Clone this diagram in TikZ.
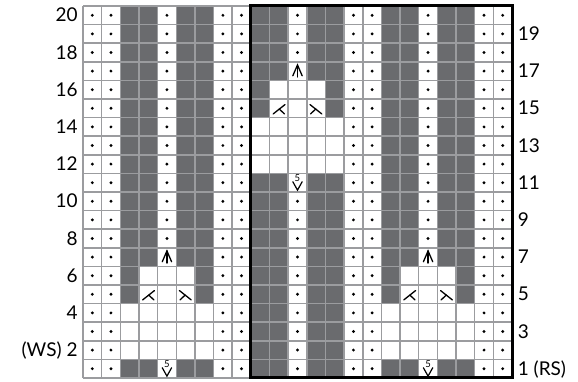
\documentclass[tikz,border=0pt]{standalone}
\usepackage{fontspec}
\setmainfont{Lato}
\definecolor{darkcell}{RGB}{106,107,110}
\definecolor{gridline}{RGB}{155,156,159}
\begin{document}
\begin{tikzpicture}[x=1pt,y=1pt,
  lbl/.style={font=\fontsize{19}{19}\selectfont, inner sep=0pt},
  sym/.style={line width=1.3pt, line cap=round, line join=miter, black},
  purl/.style={fill=black, draw=none},
  upsym/.pic={\draw[sym] (-0.25,-0.25) -- (0,0.33) -- (0.25,-0.25); \draw[sym] (0,0.33) -- (0,-0.32);},
  rsym/.pic={\draw[sym] (-0.33,0.2) -- (0.3,-0.3); \draw[sym] (-0.02,-0.04) -- (-0.3,-0.3);},
  lsym/.pic={\draw[sym] (0.33,0.2) -- (-0.3,-0.3); \draw[sym] (0.02,-0.04) -- (0.3,-0.3);},
  fivesym/.pic={\draw[sym, line width=1.2pt] (-0.25,0.05) -- (0,-0.4) -- (0.25,0.05);
     \node[inner sep=0pt, font=\fontsize{9.5}{9.5}\selectfont] at (0,0.25) {5};},
  ]
\useasboundingbox (0,0) rectangle (578,382);
\begin{scope}[shift={(83,4)}, x=18.652pt, y=18.6pt]
  \fill[white] (0,0) rectangle (23,20);
  % dark columns
  \foreach \c in {3,4,6,7,10,11,13,14,17,18,20,21}
    \fill[darkcell] (\c-1,0) rectangle (\c,20);
  % white cable areas (left cable and cable B)
  \foreach \o in {0,14} {
    \fill[white] (2+\o,1) rectangle (7+\o,4);
    \fill[white] (3+\o,4) rectangle (6+\o,6);
  }
  % cable A
  \fill[white] (9,11) rectangle (14,14);
  \fill[white] (10,14) rectangle (13,16);
  % grid
  \draw[gridline, line width=1.5pt] (0,0) grid[step=1] (23,20);
  % purl dots
  \foreach \c in {1,2,8,9,15,16,22,23}
    \foreach \r in {1,...,20}
      \fill[purl] (\c-0.5,\r-0.5) circle[radius=1.6pt];
  \foreach \c in {5,19}
    \foreach \r in {8,...,20}
      \fill[purl] (\c-0.5,\r-0.5) circle[radius=1.6pt];
  \foreach \r in {1,...,10,18,19,20}
    \fill[purl] (11.5,\r-0.5) circle[radius=1.6pt];
  % cable symbols
  \foreach \x/\y in {4.5/0, 18.5/0, 11.5/10} {
    \pic at (\x,\y+0.5) {fivesym};
    \pic at (\x-1,\y+4.5) {lsym};
    \pic at (\x+1,\y+4.5) {rsym};
    \pic at (\x,\y+6.5) {upsym};
  }
  % repeat box
  \draw[black, line width=3pt] (9,0) rectangle (23,20);
  % row labels
  \foreach \r in {4,6,...,20}
    \node[lbl, anchor=base east] (L\r) at (-0.28,\r-0.86) {\r};
  \node[lbl, anchor=base east] (L2) at (-0.28,2-0.86) {(WS) 2};
  \foreach \r in {3,5,...,19}
    \node[lbl, anchor=base west] (R\r) at (23.3,\r-0.86) {\r};
  \node[lbl, anchor=base west] (R1) at (23.3,1-0.86) {1 (RS)};
\end{scope}
\end{tikzpicture}
\end{document}
